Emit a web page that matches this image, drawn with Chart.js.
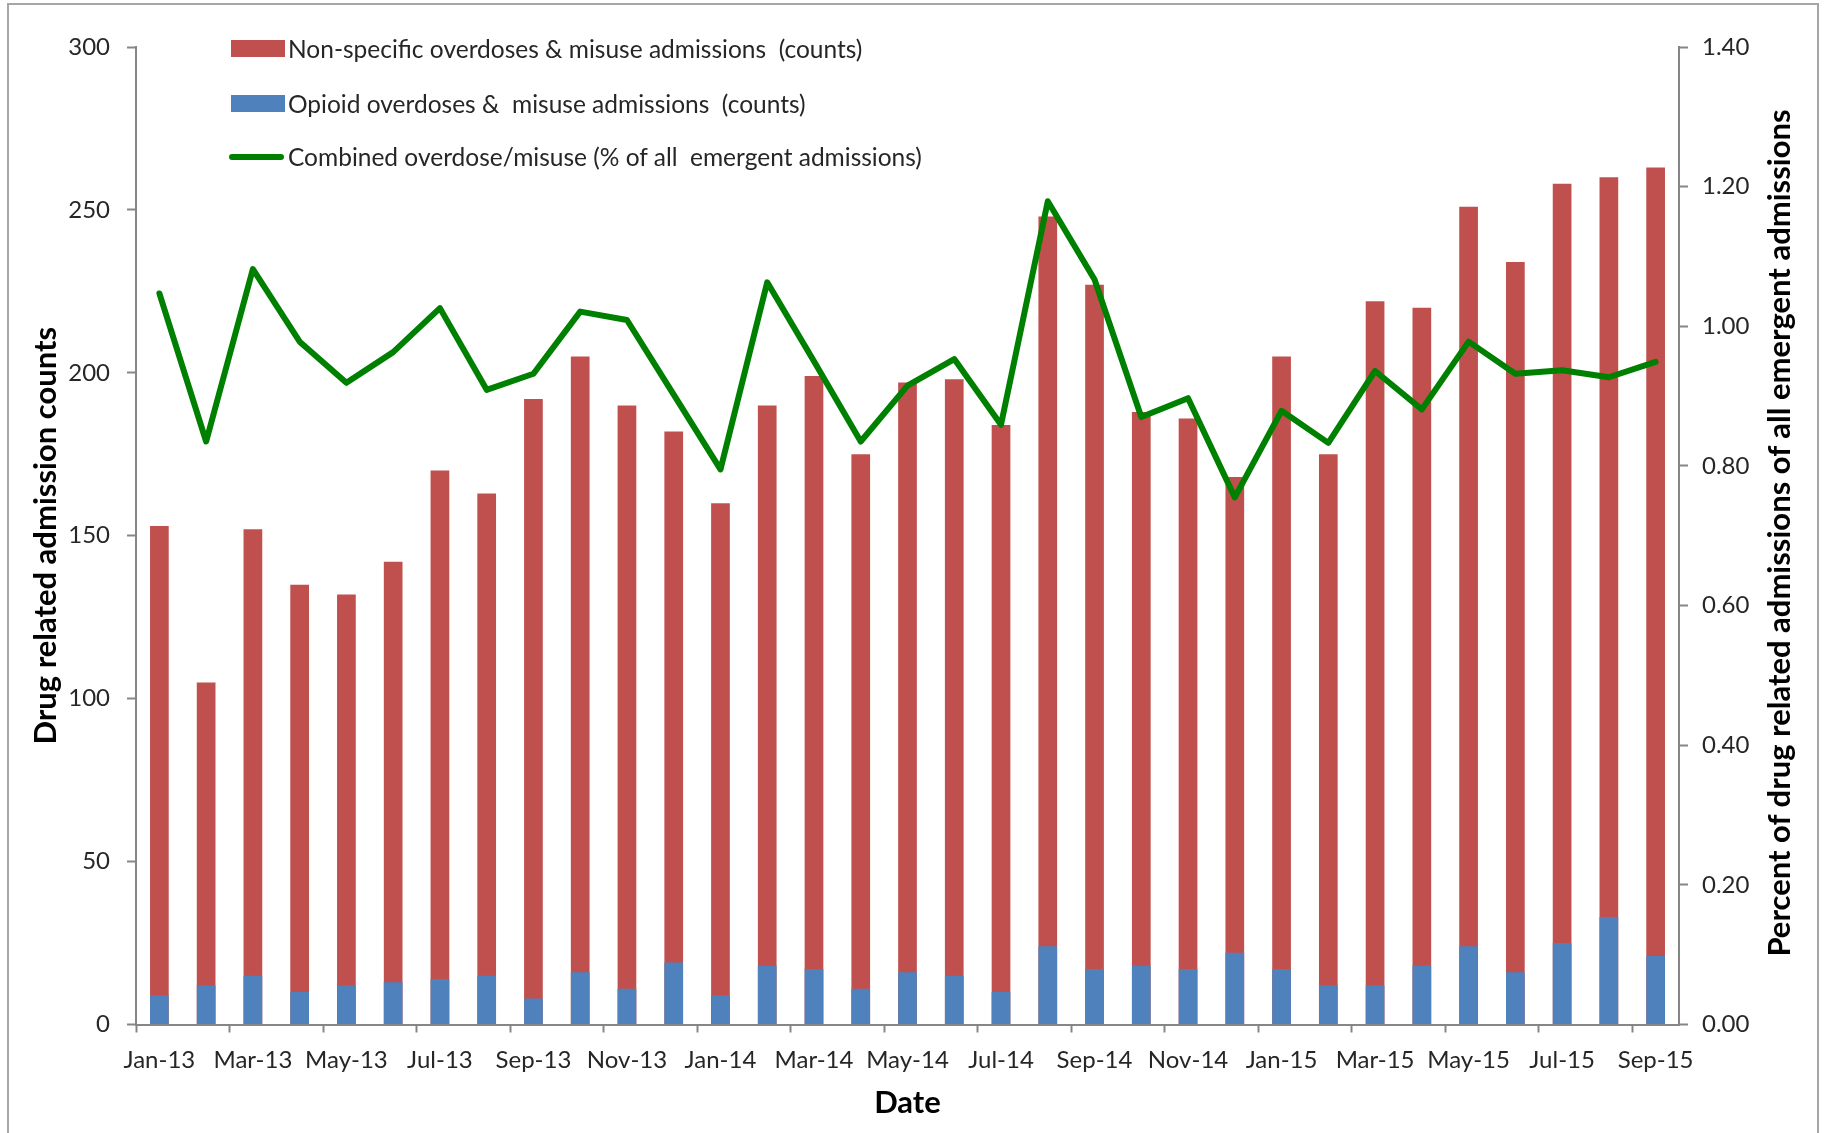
<!DOCTYPE html>
<html>
<head>
<meta charset="utf-8">
<script src="https://cdn.jsdelivr.net/npm/chart.js@4.4.1/dist/chart.umd.min.js"></script>
<style>
  html, body { margin: 0; padding: 0; background: #ffffff; }
  #wrap { position: relative; width: 1828px; height: 1133px; overflow: hidden; }
  #frame { position: absolute; left: 7px; top: 3px; width: 1812px; height: 1140px; border: 2px solid #a6a6a6; box-sizing: border-box; pointer-events: none; }
  canvas { position: absolute; left: 0; top: 0; }
  .lg { position: absolute; font-family: Lato, "Open Sans", sans-serif; font-size: 24.5px; color: #262626; white-space: pre; line-height: 30px; }
  .sw { position: absolute; }
  #rtitle { position: absolute; left: 1778px; top: 533px; transform: translate(-50%, -50%) rotate(-90deg);
    font-family: Lato, sans-serif; font-weight: bold; font-size: 31px; color: #000; white-space: nowrap; line-height: 37px; }
</style>
</head>
<body>
<div id="wrap">
  <canvas id="c" width="1828" height="1133"></canvas>
  <div id="frame"></div>
  <div class="sw" style="left:231px; top:40px; width:54px; height:17px; background:#c0504d;"></div>
  <div class="lg" style="left:288px; top:34px;">Non-specific overdoses &amp; misuse admissions  (counts)</div>
  <div class="sw" style="left:231px; top:95px; width:54px; height:17px; background:#4f81bd;"></div>
  <div class="lg" style="left:288px; top:89px;">Opioid overdoses &amp;  misuse admissions  (counts)</div>
  <div class="sw" style="left:229px; top:154px; width:55px; height:6px; background:#008000; border-radius:3px;"></div>
  <div class="lg" style="left:288px; top:142px;">Combined overdose/misuse (% of all  emergent admissions)</div>
  <div id="rtitle">Percent of drug related admissions of all emergent admissions</div>
</div>
<script>
const categories = ['Jan-13','Feb-13','Mar-13','Apr-13','May-13','Jun-13','Jul-13','Aug-13','Sep-13','Oct-13','Nov-13','Dec-13',
  'Jan-14','Feb-14','Mar-14','Apr-14','May-14','Jun-14','Jul-14','Aug-14','Sep-14','Oct-14','Nov-14','Dec-14',
  'Jan-15','Feb-15','Mar-15','Apr-15','May-15','Jun-15','Jul-15','Aug-15','Sep-15'];
const nonSpecificCounts = [153,105,152,135,132,142,170,163,192,205,190,182,
  160,190,199,175,197,198,184,248,227,188,186,168,
  205,175,222,220,251,234,258,260,263];
const opioidCounts = [9,12,15,10,12,13,14,15,8,16,11,19,
  9,18,17,11,16,15,10,24,17,18,17,22,
  17,12,12,18,24,16,25,33,21];
const combinedPercent = [1.047,0.835,1.082,0.978,0.919,0.963,1.026,0.909,0.932,1.021,1.009,0.902,
  0.795,1.063,0.950,0.835,0.915,0.953,0.859,1.179,1.067,0.870,0.897,0.755,
  0.879,0.833,0.936,0.881,0.978,0.932,0.937,0.927,0.949];
const leftTicks = [0,50,100,150,200,250,300];
const rightTicks = [0,0.2,0.4,0.6,0.8,1.0,1.2,1.4];

const AXIS = '#868686';
const TXT = '#262626';
const tickFont = { family: 'Lato', size: 24 };
const titleFont = { family: 'Lato', size: 31, weight: 'bold' };

new Chart(document.getElementById('c'), {
  type: 'bar',
  data: {
    labels: categories,
    datasets: [
      { label: 'Non-specific overdoses & misuse admissions (counts)', data: nonSpecificCounts,
        backgroundColor: '#c0504d', yAxisID: 'y', grouped: false, order: 2,
        categoryPercentage: 1, barPercentage: 0.4 },
      { label: 'Opioid overdoses & misuse admissions (counts)', data: opioidCounts,
        backgroundColor: '#4f81bd', yAxisID: 'y', grouped: false, order: 1,
        categoryPercentage: 1, barPercentage: 0.4 },
      { type: 'line', label: 'Combined overdose/misuse (% of all emergent admissions)', data: combinedPercent,
        borderColor: '#008000', borderWidth: 6, pointRadius: 0, tension: 0, fill: false,
        yAxisID: 'y1', order: 0, borderJoinStyle: 'round', borderCapStyle: 'round' }
    ]
  },
  options: {
    responsive: false,
    animation: false,
    layout: { padding: { left: 20, right: 20, top: 47, bottom: 10 } },
    plugins: { legend: { display: false }, tooltip: { enabled: false } },
    scales: {
      x: {
        type: 'category',
        offset: true,
        grid: {
          offset: true, drawOnChartArea: false, tickLength: 8, tickWidth: 2,
          tickColor: (ctx) => (ctx.index % 2 === 0 ? AXIS : 'rgba(0,0,0,0)')
        },
        border: { color: AXIS, width: 2 },
        ticks: {
          autoSkip: false, maxRotation: 0, minRotation: 0, color: TXT, font: tickFont, padding: 13,
          callback: (v, i) => (i % 2 === 0 ? categories[i] : '')
        },
        title: { display: true, text: 'Date', color: '#000', font: titleFont, padding: { top: 0, bottom: 1 } },
        afterFit: (s) => { s.height = 1133 - 10 - 1024.5; }
      },
      y: {
        position: 'left',
        min: 0, max: 300,
        afterBuildTicks: (s) => { s.ticks = leftTicks.map(v => ({ value: v })); },
        grid: { drawOnChartArea: false, tickLength: 9, tickWidth: 2, tickColor: AXIS },
        border: { color: AXIS, width: 2 },
        ticks: { color: TXT, font: tickFont, padding: 17, callback: (v) => String(v) },
        title: { display: true, text: 'Drug related admission counts', color: '#000', font: titleFont, padding: { top: 7, bottom: 0 } },
        afterFit: (s) => { s.width = 136 - 20; }
      },
      y1: {
        position: 'right',
        min: 0, max: 1.4,
        afterBuildTicks: (s) => { s.ticks = rightTicks.map(v => ({ value: v })); },
        grid: { drawOnChartArea: false, tickLength: 9, tickWidth: 2, tickColor: AXIS },
        border: { color: AXIS, width: 2 },
        ticks: { color: TXT, font: tickFont, padding: 14, callback: (v) => Number(v).toFixed(2) },
        title: { display: false },
        afterFit: (s) => { s.width = 1828 - 20 - 1679; }
      }
    }
  }
});
</script>
</body>
</html>
